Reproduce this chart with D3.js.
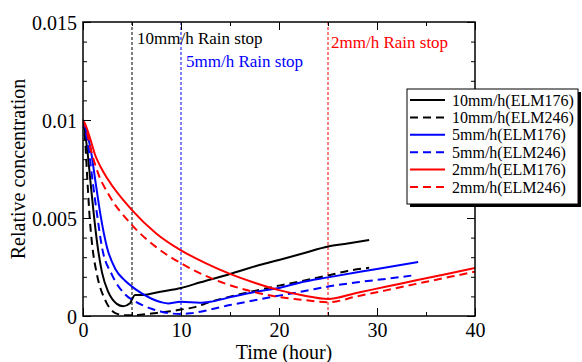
<!DOCTYPE html>
<html>
<head>
<meta charset="utf-8">
<script src="https://cdn.jsdelivr.net/npm/d3@7"></script>
<style>
  html, body { margin: 0; padding: 0; background: #fff; }
  svg { display: block; }
  text { font-family: "Liberation Serif", "Times New Roman", Times, serif; }
</style>
</head>
<body>
<svg id="chart" width="582" height="362" font-family="'Liberation Serif', 'Times New Roman', Times, serif"></svg>
<script>
// ---------------- Data ----------------
const legendLabels = ["10mm/h(ELM176)", "10mm/h(ELM246)", "5mm/h(ELM176)", "5mm/h(ELM246)", "2mm/h(ELM176)", "2mm/h(ELM246)"];

const t10_176 = [0, 0.25, 0.5, 0.75, 1.1, 1.45, 1.95, 2.6, 3.45, 4.1, 4.8, 5.0, 5.3, 6.1, 7.9, 10, 12, 15, 18, 20, 22.5, 25, 27, 29.2];
const c10_176 = [0.01, 0.0092, 0.0082, 0.0069, 0.0052, 0.0037, 0.0022, 0.0012, 0.00062, 0.0005, 0.00065, 0.00085, 0.00107, 0.00107, 0.00124, 0.00143, 0.00172, 0.00214, 0.0026, 0.00286, 0.0032, 0.00355, 0.0037, 0.00388];

const t10_246 = [0, 0.2, 0.45, 0.7, 0.92, 1.43, 2.28, 3.3, 4.3, 5.5, 7, 8.9, 10, 11.3, 13, 15, 17.5, 20, 22.5, 25, 27, 29.2];
const c10_246 = [0.01, 0.0091, 0.0069, 0.0049, 0.0037, 0.0021, 0.0008, 0.00015, 0.00004, 0.00005, 0.00013, 0.00024, 0.00033, 0.00044, 0.00072, 0.00099, 0.00128, 0.00155, 0.0018, 0.00207, 0.0023, 0.00246];

const t5_176 = [0, 0.25, 0.75, 1.26, 1.77, 2.45, 3.3, 4.3, 5, 6, 7, 8, 8.7, 9.5, 10, 11.9, 13, 15.3, 18.7, 20, 22.1, 25, 30, 34.2];
const c5_176 = [0.01, 0.0096, 0.0086, 0.0069, 0.0052, 0.0035, 0.0024, 0.0018, 0.0015, 0.00115, 0.00088, 0.0007, 0.00064, 0.0007, 0.00073, 0.00068, 0.00073, 0.00099, 0.00133, 0.00143, 0.0017, 0.00197, 0.0024, 0.00276];

const t5_246 = [0, 0.25, 0.58, 1.0, 1.43, 1.94, 2.96, 4.3, 5.3, 6, 7, 8, 9, 10, 11, 13, 15, 17.5, 20, 22.5, 25, 28, 31, 33.5];
const c5_246 = [0.01, 0.0094, 0.0085, 0.0068, 0.0052, 0.0035, 0.0021, 0.0011, 0.00075, 0.00057, 0.00037, 0.00022, 0.00013, 0.0001, 0.00014, 0.00033, 0.00056, 0.0008, 0.00104, 0.00126, 0.0015, 0.00172, 0.0019, 0.00206];

const t2_176 = [0, 0.3, 0.7, 1.25, 1.8, 2.5, 5, 7.5, 10, 12.5, 15, 17.5, 20, 22.5, 25, 28, 31, 34, 37, 40];
const c2_176 = [0.01, 0.0097, 0.0091, 0.0082, 0.0076, 0.007, 0.0054, 0.0042, 0.00335, 0.0027, 0.00215, 0.0017, 0.00132, 0.00105, 0.00087, 0.00119, 0.0015, 0.00182, 0.00213, 0.00245];

const t2_246 = [0, 0.3, 0.75, 1.6, 2.5, 5, 7.5, 10, 12.5, 15, 17.5, 20, 22.5, 25, 28, 31, 34, 37, 40];
const c2_246 = [0.01, 0.0096, 0.0086, 0.0072, 0.0063, 0.00464, 0.0035, 0.00269, 0.00205, 0.00157, 0.00122, 0.00097, 0.00082, 0.0007, 0.00101, 0.00132, 0.00164, 0.00195, 0.00226];

const stopTimes = [5, 10, 25];
const stopLabels = ["10mm/h Rain stop", "5mm/h Rain stop", "2mm/h Rain stop"];

const xTicks = [0, 10, 20, 30, 40];
const xTickLabels = ["0", "10", "20", "30", "40"];
const yTicks = [0, 0.005, 0.01, 0.015];
const yTickLabels = ["0", "0.005", "0.01", "0.015"];

// ---------------- Layout ----------------
const svg = d3.select("#chart");
const L = 83, R = 475, T = 22, B = 316;
const x = d3.scaleLinear().domain([0, 40]).range([L, R]);
const y = d3.scaleLinear().domain([0, 0.015]).range([B, T]);
const FONT = "'Liberation Serif', 'Times New Roman', Times, serif";

const colors = ["#000000", "#000000", "#0000ff", "#0000ff", "#ff0000", "#ff0000"];
const dashed = [false, true, false, true, false, true];
const tList = [t10_176, t10_246, t5_176, t5_246, t2_176, t2_246];
const cList = [c10_176, c10_246, c5_176, c5_246, c2_176, c2_246];
const series = tList.map((ts, i) => ({
  name: legendLabels[i], color: colors[i], dashed: dashed[i],
  pts: ts.map((t, j) => ({ t: t, c: cList[i][j] }))
}));

svg.append("defs").append("clipPath").attr("id", "clip")
  .append("rect").attr("x", L).attr("y", T).attr("width", R - L).attr("height", B - T);

// stop lines
const stopColors = ["#000000", "#0000ff", "#ff0000"];
svg.selectAll("line.stop").data(stopTimes).enter().append("line")
  .attr("x1", d => x(d)).attr("x2", d => x(d))
  .attr("y1", T).attr("y2", B)
  .attr("stroke", (d, i) => stopColors[i]).attr("stroke-width", 1)
  .attr("stroke-dasharray", "3,2");

// stop labels
const stopLabelPos = [[x(5) + 5, 44], [x(10) + 5, 67], [x(25) + 3, 48]];
svg.selectAll("text.stop").data(stopLabels).enter().append("text")
  .attr("x", (d, i) => stopLabelPos[i][0]).attr("y", (d, i) => stopLabelPos[i][1])
  .attr("fill", (d, i) => stopColors[i]).attr("font-size", 17).attr("font-family", FONT).text(d => d);

// data lines
const line = d3.line().x(d => x(d.t)).y(d => y(d.c)).curve(d3.curveMonotoneX);
const g = svg.append("g").attr("clip-path", "url(#clip)");
g.selectAll("path.series").data(series).enter().append("path")
  .attr("d", d => line(d.pts))
  .attr("fill", "none")
  .attr("stroke", d => d.color)
  .attr("stroke-width", 2)
  .attr("stroke-dasharray", d => d.dashed ? "8,5" : null);

// axes (ticks inward)
const xMinor = [5, 15, 25, 35];
const yMinor = d3.range(0, 16).map(i => i * 0.001).filter(v => !yTicks.some(t => Math.abs(t - v) < 1e-9));

const axB = svg.append("g").attr("transform", `translate(0,${B})`)
  .call(d3.axisBottom(x).tickValues(xTicks).tickFormat((d, i) => xTickLabels[i]).tickSizeInner(-8).tickSizeOuter(0).tickPadding(7));
const axBm = svg.append("g").attr("transform", `translate(0,${B})`)
  .call(d3.axisBottom(x).tickValues(xMinor).tickFormat("").tickSizeInner(-4).tickSizeOuter(0));
const axT = svg.append("g").attr("transform", `translate(0,${T})`)
  .call(d3.axisTop(x).tickValues(xTicks).tickFormat("").tickSizeInner(-8).tickSizeOuter(0));
const axTm = svg.append("g").attr("transform", `translate(0,${T})`)
  .call(d3.axisTop(x).tickValues(xMinor).tickFormat("").tickSizeInner(-4).tickSizeOuter(0));
const axL = svg.append("g").attr("transform", `translate(${L},0)`)
  .call(d3.axisLeft(y).tickValues(yTicks).tickFormat((d, i) => yTickLabels[i]).tickSizeInner(-8).tickSizeOuter(0).tickPadding(6));
const axLm = svg.append("g").attr("transform", `translate(${L},0)`)
  .call(d3.axisLeft(y).tickValues(yMinor).tickFormat("").tickSizeInner(-4).tickSizeOuter(0));
const axR = svg.append("g").attr("transform", `translate(${R},0)`)
  .call(d3.axisRight(y).tickValues(yTicks).tickFormat("").tickSizeInner(-8).tickSizeOuter(0));
const axRm = svg.append("g").attr("transform", `translate(${R},0)`)
  .call(d3.axisRight(y).tickValues(yMinor).tickFormat("").tickSizeInner(-4).tickSizeOuter(0));

[axB, axBm, axT, axTm, axL, axLm, axR, axRm].forEach(a => {
  a.attr("font-family", FONT);
  a.select(".domain").remove();
  a.selectAll(".tick line").attr("stroke", "#000").attr("stroke-width", 1);
  a.selectAll(".tick text").attr("font-family", FONT).attr("font-size", 20).attr("fill", "#000");
});
axL.selectAll(".tick text").attr("dy", "0.35em");

// frame
svg.append("rect").attr("x", L).attr("y", T).attr("width", R - L).attr("height", B - T)
  .attr("fill", "none").attr("stroke", "#000").attr("stroke-width", 1.5);

// axis titles
svg.append("text").attr("x", 284).attr("y", 359).attr("text-anchor", "middle")
  .attr("font-size", 20).attr("font-family", FONT).text("Time (hour)");
svg.append("text").attr("transform", "translate(25,169) rotate(-90)").attr("text-anchor", "middle")
  .attr("font-size", 20).attr("font-family", FONT).text("Relative concentration");

// legend
const lg = svg.append("g");
const lx = 407, ly = 89, lw = 171, lh = 115;
lg.append("rect").attr("x", lx + 3).attr("y", ly + 3).attr("width", lw).attr("height", lh).attr("fill", "#000");
lg.append("rect").attr("x", lx).attr("y", ly).attr("width", lw).attr("height", lh)
  .attr("fill", "#fff").attr("stroke", "#000").attr("stroke-width", 1);
const rowY = i => 100 + i * 17.4;
lg.selectAll("line.leg").data(series).enter().append("line")
  .attr("x1", 410).attr("x2", 445)
  .attr("y1", (d, i) => rowY(i)).attr("y2", (d, i) => rowY(i))
  .attr("stroke", d => d.color).attr("stroke-width", 2)
  .attr("stroke-dasharray", d => d.dashed ? "8,5" : null);
lg.selectAll("text.leg").data(series).enter().append("text")
  .attr("x", 452).attr("y", (d, i) => rowY(i)).attr("dy", "0.35em")
  .attr("font-size", 16).attr("font-family", FONT).text(d => d.name);
</script>
</body>
</html>
